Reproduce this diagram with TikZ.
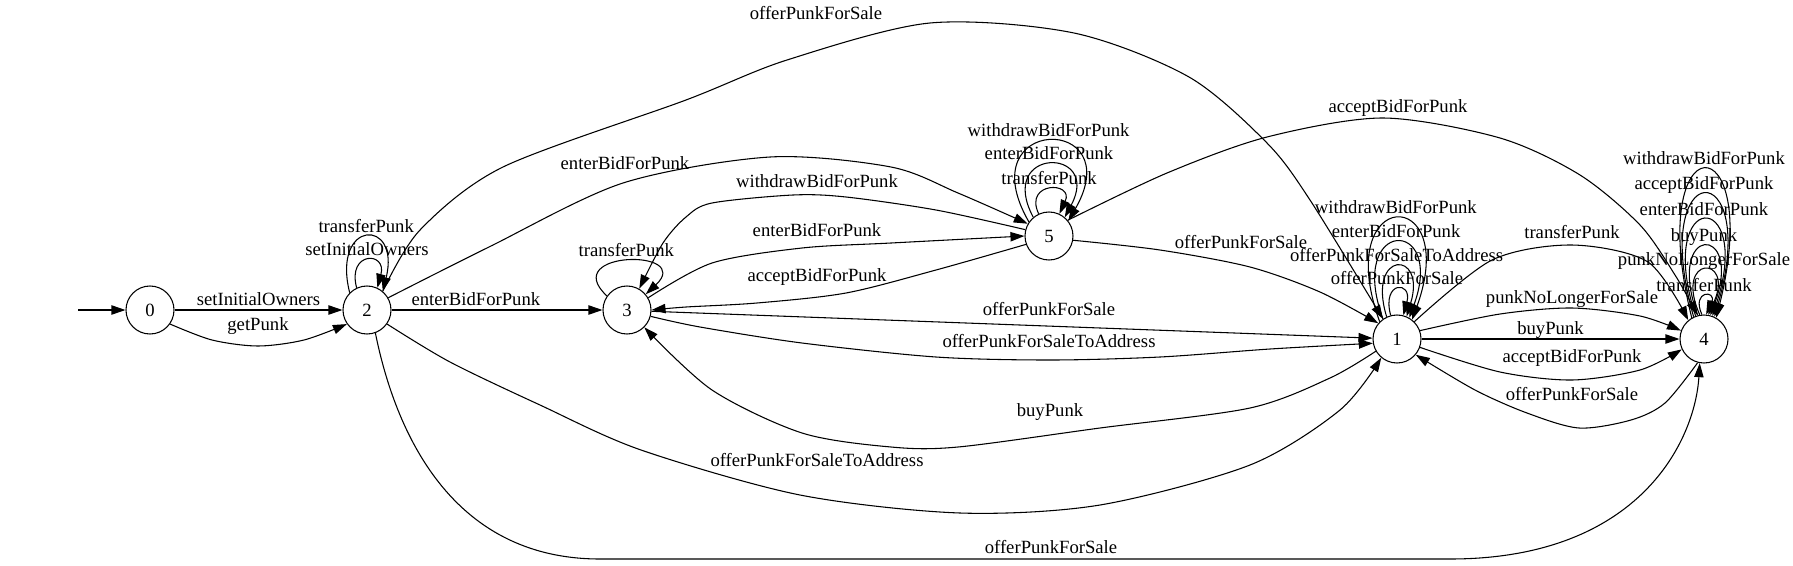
\documentclass[tikz,border=0pt]{standalone}
\usepackage{fontspec}
\setmainfont{Liberation Serif}
\usetikzlibrary{arrows.meta}

\begin{document}
\begin{tikzpicture}[
	x=0.75pt, y=0.75pt,
	% Style for the states
	state/.style={
		circle,
		draw=black,
		line width=0.8pt,
		minimum size=36pt,
		inner sep=0pt,
		font=\fontsize{14}{17}\selectfont
	},
	% Style for the transitions
	trans/.style={
		draw=black,
		line width=0.8pt,
		-{Triangle[length=10.5pt, width=7pt]}
	},
	% Style for the transition labels
	lbl/.style={
		inner sep=0pt,
		text height=10pt,
		text depth=3pt,
		font=\fontsize{14}{17}\selectfont
	}
	]
	\useasboundingbox (0,0) rectangle (1793,-565);
	
	% The states
	\node[state] (n0) at (150,-310) {0};
	\node[state] (n2) at (367,-310) {2};
	\node[state] (n3) at (627,-310) {3};
	\node[state] (n5) at (1049,-236) {5};
	\node[state] (n1) at (1397,-339) {1};
	\node[state] (n4) at (1704,-339) {4};
	
	% Initial arrow
	\coordinate (start) at (78,-310);
	\draw[trans] (start) -- (n0);
	
	% 0 -> 2
	\draw[trans] (n0) -- (n2) node[lbl, midway, above] (l02a) {setInitialOwners};
	\draw[trans] plot[smooth] coordinates {(n0.-35) (212,-340) (258,-346) (304,-340) (n2.-145)};
	\node[lbl] (l02b) at (258,-326) {getPunk};
	
	% Self loops of 2
	\foreach \a/\t/\b/\u/\l/\lbl [count=\k] in {115/105/65/75/38/setInitialOwners, 135/104/50/76/76/transferPunk}{
		\draw[trans] (n2.\a) .. controls +(\t:\l) and +(\u:\l) .. (n2.\b) node[lbl, midway, above] (l2-\k) {\lbl};
	}
	
	% 2 -> 3, 2 -> 5, 2 -> 1, 2 -> 4
	\draw[trans] (n2) -- (n3) node[lbl, pos=.4, above] (l23) {enterBidForPunk};
	\draw[trans] plot[smooth] coordinates {(n2.30) (489,-247) (623,-183) (770,-157) (891,-167) (958,-193) (n5.150)};
	\node[lbl] (l25) at (625,-165) {enterBidForPunk};
	\draw[trans] plot[smooth] coordinates {(n2.50) (420,-230) (503,-167) (686,-100) (787,-60) (930,-23) (1074,-33) (1189,-77) (1267,-143) (1310,-200) (n1.125)};
	\node[lbl] (l21a) at (816,-15) {offerPunkForSale};
	\draw[trans] plot[smooth] coordinates {(n2.-35) (450,-362) (540,-405) (641,-450) (800,-495) (960,-513) (1100,-505) (1250,-465) (1340,-410) (n1.-130)};
	\node[lbl] (l21b) at (817,-462) {offerPunkForSaleToAddress};
	\draw[trans] (n2.-70) .. controls (395,-430) and (450,-559) .. (600,-559) -- (1450,-559) .. controls (1640,-559) and (1695,-440) .. (n4.-100);
	\node[lbl] (l24) at (1051,-549) {offerPunkForSale};
	
	% Self loop of 3
	\draw[trans] (n3.145) .. controls +(137:67) and +(43:67) .. (n3.40) node[lbl, midway, above] (l3-1) {transferPunk};
	
	% Between 3 and 5
	\draw[trans] plot[smooth] coordinates {(n3.30) (712,-263) (802,-248) (891,-243) (n5.180)};
	\node[lbl] (l35) at (817,-232) {enterBidForPunk};
	\draw[trans] plot[smooth] coordinates {(n5.165) (936,-210) (846,-197) (793,-195) (712,-203) (686,-217) (663,-243) (n3.60)};
	\node[lbl] (l53a) at (817,-183) {withdrawBidForPunk};
	\draw[trans] plot[smooth] coordinates {(n5.-160) (936,-270) (846,-293) (757,-303) (686,-307) (n3.0)};
	\node[lbl] (l53b) at (817,-277) {acceptBidForPunk};
	
	% Self loops of 5
	\foreach \a/\t/\b/\u/\l/\lbl [count=\k] in {115/115/65/65/36/transferPunk, 130/118/50/62/80/enterBidForPunk, 145/120/38/60/124/withdrawBidForPunk}{
		\draw[trans] (n5.\a) .. controls +(\t:\l) and +(\u:\l) .. (n5.\b) node[lbl, midway, above] (l5-\k) {\lbl};
	}
	
	% 5 -> 1, 5 -> 4
	\draw[trans] plot[smooth] coordinates {(n5.-10) (1160,-250) (1250,-267) (1320,-292) (n1.140)};
	\node[lbl] (l51) at (1241,-244) {offerPunkForSale};
	\draw[trans] plot[smooth] coordinates {(n5.40) (1167,-173) (1267,-137) (1383,-118) (1500,-138) (1580,-175) (1640,-225) (1675,-275) (n4.105)};
	\node[lbl] (l54) at (1398,-108) {acceptBidForPunk};
	
	% 3 -> 1, 1 -> 3
	\draw[trans] (n3.-3) -- (n1.178);
	\node[lbl] (l31a) at (1049,-311) {offerPunkForSale};
	\draw[trans] plot[smooth] coordinates {(n3.-15) (700,-327) (802,-343) (936,-357) (1050,-360) (1160,-357) (1270,-349) (n1.-170)};
	\node[lbl] (l31b) at (1049,-343) {offerPunkForSaleToAddress};
	\draw[trans] plot[smooth] coordinates {(n1.-150) (1330,-378) (1250,-408) (1100,-428) (958,-447) (891,-447) (802,-433) (712,-390) (n3.-45)};
	\node[lbl] (l13) at (1050,-412) {buyPunk};
	
	% Self loops of 1
	\foreach \a/\t/\b/\u/\l/\lbl [count=\k] in {105/105/75/75/36/offerPunkForSale, 115/107/67/73/70/offerPunkForSaleToAddress, 125/110/60/70/108/enterBidForPunk, 135/110/52/70/145/withdrawBidForPunk}{
		\draw[trans] (n1.\a) .. controls +(\t:\l) and +(\u:\l) .. (n1.\b) node[lbl, midway, above] (l1-\k) {\lbl};
	}
	
	% 1 -> 4, 4 -> 1
	\draw[trans] plot[smooth] coordinates {(n1.45) (1492,-260) (1572,-245) (1648,-262) (n4.130)};
	\node[lbl] (l14a) at (1572,-234) {transferPunk};
	\draw[trans] plot[smooth] coordinates {(n1.20) (1500,-314) (1572,-308) (1640,-316) (n4.160)};
	\node[lbl] (l14b) at (1572,-299) {punkNoLongerForSale};
	\draw[trans] (n1) -- (n4) node[lbl, midway, above] (l14c) {buyPunk};
	\draw[trans] plot[smooth] coordinates {(n1.-20) (1500,-372) (1572,-380) (1640,-370) (n4.-155)};
	\node[lbl] (l14d) at (1572,-358) {acceptBidForPunk};
	\draw[trans] plot[smooth] coordinates {(n4.-105) (1665,-403) (1631,-420) (1579,-428) (1527,-413) (1475,-390) (n1.-40)};
	\node[lbl] (l41) at (1572,-396) {offerPunkForSale};
	
	% Self loops of 4
	\foreach \a/\t/\b/\u/\l/\lbl [count=\k] in {95/114/85/66/27/transferPunk, 100/114/80/66/66/punkNoLongerForSale, 105/110/75/70/98/buyPunk, 110/108/70/72/135/enterBidForPunk, 115/106/65/74/170/acceptBidForPunk, 120/104/60/76/204/withdrawBidForPunk}{
		\draw[trans] (n4.\a) .. controls +(\t:\l) and +(\u:\l) .. (n4.\b) node[lbl, midway, above] (l4-\k) {\lbl};
	}
	
\end{tikzpicture}
\end{document}
